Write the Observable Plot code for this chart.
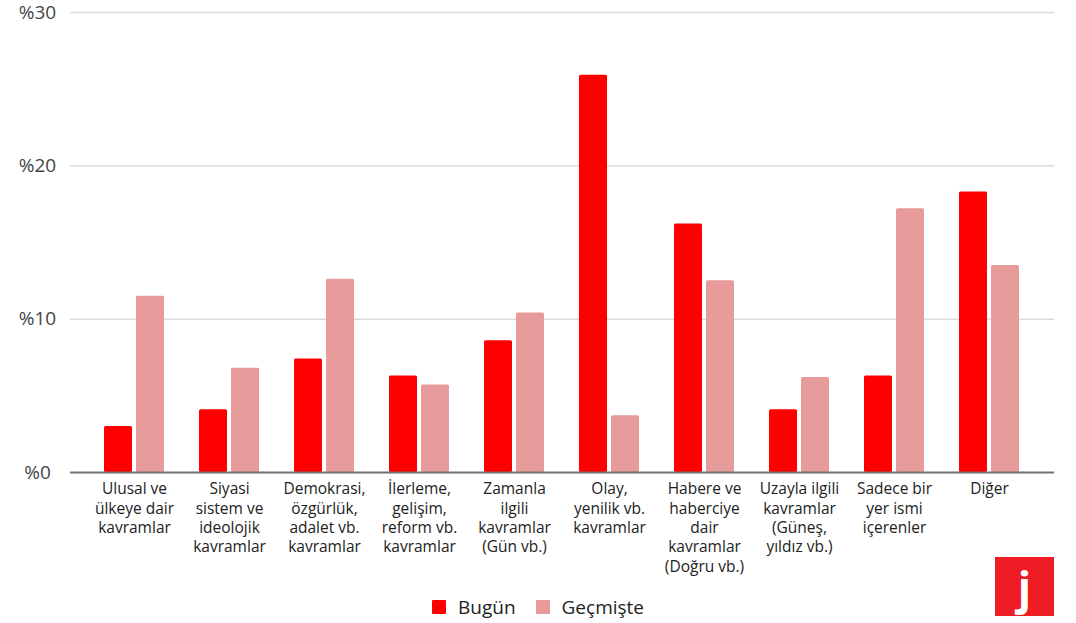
<!DOCTYPE html>
<html>
<head>
<meta charset="utf-8">
<script src="https://cdn.jsdelivr.net/npm/d3@7"></script>
<script src="https://cdn.jsdelivr.net/npm/@observablehq/plot@0.6"></script>
<style>
  html, body { margin: 0; padding: 0; background: #fff; }
  #wrap { position: relative; width: 1076px; height: 623px; font-family: "Open Sans", sans-serif; }
  #legend { display: flex; justify-content: center; align-items: center; height: 33px; font-size: 19px; color: #222; padding-left: 0px; }
  .item { display: flex; align-items: center; margin: 0 10px; }
  .sw { width: 14px; height: 14px; margin-right: 12px; border-radius: 1px; }
  #logo { position: absolute; left: 995px; top: 557px; width: 59px; height: 59px; background: #ee1c24; color: #fff; font: bold 44px "Open Sans", sans-serif; display: flex; align-items: center; justify-content: center; line-height: 1; }
</style>
</head>
<body>
<div id="wrap">
  <div id="chart"></div>
  <div id="legend"></div>
  <div id="logo">j</div>
</div>
<script>
const categories = [
  "Ulusal ve\nülkeye dair\nkavramlar",
  "Siyasi\nsistem ve\nideolojik\nkavramlar",
  "Demokrasi,\nözgürlük,\nadalet vb.\nkavramlar",
  "İlerleme,\ngelişim,\nreform vb.\nkavramlar",
  "Zamanla\nilgili\nkavramlar\n(Gün vb.)",
  "Olay,\nyenilik vb.\nkavramlar",
  "Habere ve\nhaberciye\ndair\nkavramlar\n(Doğru vb.)",
  "Uzayla ilgili\nkavramlar\n(Güneş,\nyıldız vb.)",
  "Sadece bir\nyer ismi\niçerenler",
  "Diğer"
];
const seriesNames = ["Bugün", "Geçmişte"];
const bugun =    [3.0, 4.1, 7.4, 6.3, 8.6, 25.9, 16.2, 4.1, 6.3, 18.3];
const gecmiste = [11.5, 6.8, 12.6, 5.7, 10.4, 3.7, 12.5, 6.2, 17.2, 13.5];
const yTicks = [0, 10, 20, 30];
const colors = ["#ff0000", "#e89b9b"];

const rows = categories.map((c, i) => ({category: c, bugun: bugun[i], gecmiste: gecmiste[i]}));

const chart = Plot.plot({
  width: 1076,
  height: 590,
  marginTop: 12,
  marginLeft: 70,
  marginRight: 22,
  marginBottom: 118,
  style: {fontFamily: "'Open Sans', sans-serif", background: "#fff"},
  x: {domain: categories, paddingInner: 0.368, paddingOuter: 0.358, label: null},
  y: {domain: [0, 30], label: null},
  marks: [
    Plot.ruleY(yTicks.filter(d => d > 0), {stroke: "#dcdcdc", strokeWidth: 1.5}),
    Plot.barY(rows, {x: "category", y: "bugun", fill: colors[0], insetRight: 32, rx: 1.5}),
    Plot.barY(rows, {x: "category", y: "gecmiste", fill: colors[1], insetLeft: 32, rx: 1.5}),
    Plot.ruleY([0], {stroke: "#707070", strokeWidth: 2}),
    Plot.axisY({ticks: yTicks, tickFormat: d => "%" + d, tickSize: 0, tickPadding: 33, textAnchor: "middle", fontSize: 19, color: "#444", label: null}),
    Plot.axisX({tickSize: 0, tickPadding: 8, fontSize: 15.5, lineHeight: 1.25, color: "#222", label: null})
  ]
});
document.getElementById("chart").appendChild(chart);

const legend = document.getElementById("legend");
seriesNames.forEach((name, i) => {
  const item = document.createElement("div");
  item.className = "item";
  const sw = document.createElement("div");
  sw.className = "sw";
  sw.style.background = colors[i];
  const t = document.createElement("span");
  t.textContent = name;
  item.appendChild(sw);
  item.appendChild(t);
  legend.appendChild(item);
});
</script>
</body>
</html>
